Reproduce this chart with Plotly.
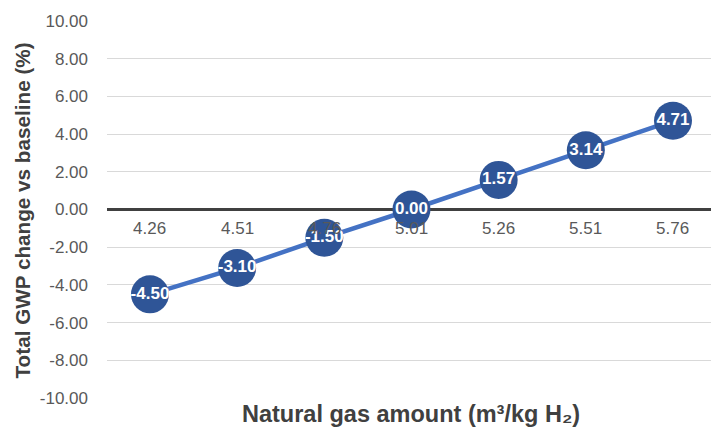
import plotly.graph_objects as go

# Natural gas amounts (category labels) and GWP change vs baseline (%)
categories = ["4.26", "4.51", "4.76", "5.01", "5.26", "5.51", "5.76"]
gwp_change = [-4.50, -3.10, -1.50, 0.00, 1.57, 3.14, 4.71]
y_ticks = [-10, -8, -6, -4, -2, 0, 2, 4, 6, 8, 10]

idx = list(range(len(categories)))

fig = go.Figure()
fig.add_trace(go.Scatter(
    x=idx, y=gwp_change,
    mode="lines+markers+text",
    line=dict(color="#4472C4", width=4.5),
    marker=dict(size=38, color="#2F5597", line=dict(width=0)),
    text=[f"{v:.2f}" for v in gwp_change],
    textposition="middle center",
    textfont=dict(family="Liberation Sans, Arial", size=17, color="white", weight="bold"),
    cliponaxis=False,
    showlegend=False,
))

# Category labels sit just under the zero line
for i, c in zip(idx, categories):
    fig.add_annotation(x=i, y=0, xref="x", yref="y", text=c, showarrow=False,
                       yanchor="top", yshift=-7,
                       font=dict(family="Liberation Sans, Arial", size=17, color="#595959"))

fig.add_annotation(x=0.0, y=0.5, xref="paper", yref="paper", xanchor="center", yanchor="middle",
                   xshift=-85, yshift=-1, text="Total GWP change vs baseline (%)", textangle=-90,
                   showarrow=False,
                   font=dict(family="Liberation Sans, Arial", size=20.7, color="#404040", weight="bold"))
fig.add_annotation(x=0.5, y=0, xref="paper", yref="paper", xanchor="center", yanchor="top",
                   yshift=-1, xshift=2,
                   text="Natural gas amount (m³/kg H₂)", showarrow=False,
                   font=dict(family="Liberation Sans, Arial", size=23.5, color="#404040", weight="bold"))

fig.update_xaxes(range=[-0.493, 6.436], showticklabels=False, showgrid=False,
                 zeroline=False, showline=False, ticks="")
fig.update_yaxes(range=[-10, 10], tickvals=y_ticks, ticktext=[f"{v:.2f}" for v in y_ticks],
                 showgrid=True, gridcolor="#D9D9D9", gridwidth=1,
                 zeroline=True, zerolinecolor="#404040", zerolinewidth=3,
                 showline=False, ticks="", ticklabelstandoff=18,
                 tickfont=dict(family="Liberation Sans, Arial", size=17, color="#595959"))

fig.update_layout(
    width=711, height=428,
    margin=dict(l=107, r=0, t=21, b=30),
    plot_bgcolor="white", paper_bgcolor="white",
)

fig.write_html("out.html")
